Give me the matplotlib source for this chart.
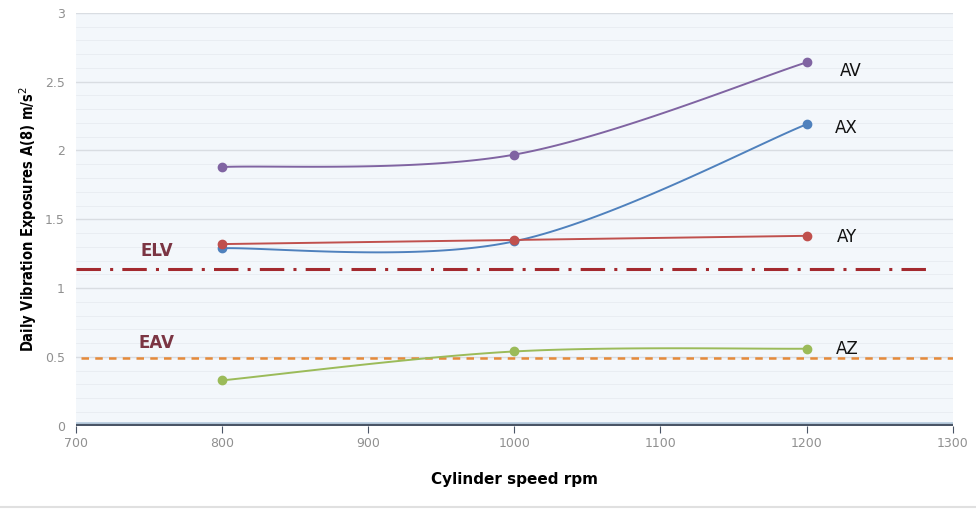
import numpy as np
import matplotlib
matplotlib.use('Agg')
from matplotlib import pyplot as plt

########
# DATA #
########

speed = [800, 1000, 1200]
av = [1.88, 1.97, 2.64]
ax_ = [1.29, 1.34, 2.19]
ay = [1.32, 1.35, 1.38]
az = [0.33, 0.54, 0.56]
series_names = ['AV', 'AX', 'AY', 'AZ']
series_colors = ['#8064a2', '#4f81bd', '#c0504d', '#9bbb59']
elv = 1.14
eav = 0.49


def excel_smooth(x, y, n=60):
    # bezier smoothing roughly like the excel "smoothed line" option
    x = np.asarray(x, float)
    y = np.asarray(y, float)
    px = np.concatenate([[x[0]], x, [x[-1]]])
    py = np.concatenate([[y[0]], y, [y[-1]]])
    xs, ys = [], []
    t = np.linspace(0, 1, n)
    for i in range(1, len(px) - 2):
        p0 = np.array([px[i], py[i]])
        p3 = np.array([px[i + 1], py[i + 1]])
        p1 = p0 + (np.array([px[i + 1], py[i + 1]]) - np.array([px[i - 1], py[i - 1]])) / 6
        p2 = p3 - (np.array([px[i + 2], py[i + 2]]) - np.array([px[i], py[i]])) / 6
        b = ((1 - t) ** 3)[:, None] * p0 + (3 * (1 - t) ** 2 * t)[:, None] * p1 \
            + (3 * (1 - t) * t ** 2)[:, None] * p2 + (t ** 3)[:, None] * p3
        xs.extend(b[:, 0])
        ys.extend(b[:, 1])
    return xs, ys


fig = plt.figure(figsize=(9.76, 5.13), dpi=100)
ax = fig.add_axes([0.078, 0.170, 0.898, 0.805])
ax.set_facecolor('#f3f7fb')

for yy in np.arange(0.1, 3.0, 0.1):
    ax.axhline(yy, color='#e8ecf1', linewidth=0.6, zorder=0)
for yy in np.arange(0.5, 3.01, 0.5):
    ax.axhline(yy, color='#d9dde2', linewidth=1.0, zorder=0)

# limit lines
ax.plot([700, 1285], [elv, elv], color='#a3292e', linewidth=2.2,
        dashes=[8, 3, 1, 3], zorder=2)
ax.plot([703, 1300], [eav, eav], color='#e58a3a', linewidth=1.8,
        dashes=[3, 2.5], zorder=2)
ax.text(755, 1.27, 'ELV', color='#7b3543', fontsize=12, fontweight='semibold',
        ha='center', va='center')
ax.text(755, 0.60, 'EAV', color='#7b3543', fontsize=12, fontweight='semibold',
        ha='center', va='center')

all_series = [av, ax_, ay, az]
label_pos = [(1230, 2.58), (1227, 2.16), (1228, 1.37), (1228, 0.56)]
for vals, name, col, lp in zip(all_series, series_names, series_colors, label_pos):
    sx, sy = excel_smooth(speed, vals)
    ax.plot(sx, sy, color=col, linewidth=1.4, zorder=3)
    ax.plot(speed, vals, 'o', color=col, markersize=6, zorder=4)
    ax.text(lp[0], lp[1], name, fontsize=12, ha='center', va='center', color='#111111')

ax.axhline(0, color='#4a5566', linewidth=3, zorder=5)
ax.axhline(0.02, color='#b9cde0', linewidth=2, zorder=4)

ax.set_xlim(700, 1300)
ax.set_ylim(0, 3)
ax.set_xticks(np.arange(700, 1301, 100))
ax.set_yticks([0, 0.5, 1, 1.5, 2, 2.5, 3])
ax.set_yticklabels(['0', '0.5', '1', '1.5', '2', '2.5', '3'])
for s in ax.spines.values():
    s.set_visible(False)
ax.tick_params(axis='y', length=0, labelsize=9, labelcolor='#909090', pad=8)
ax.tick_params(axis='x', length=5, color='#4a5566', labelsize=9,
               labelcolor='#909090', pad=3)

ax.set_ylabel('Daily Vibration Exposures A(8) m/s$^2$', fontsize=10.5,
              fontweight='bold', fontstretch='condensed', labelpad=4)
ax.set_xlabel('Cylinder speed rpm', fontsize=11, fontweight='bold', labelpad=16)

fig.add_artist(plt.Line2D([0, 1], [0.012, 0.012], color='#e0e0e0', linewidth=1.5))

plt.savefig('out.png', dpi=100)
plt.close()
